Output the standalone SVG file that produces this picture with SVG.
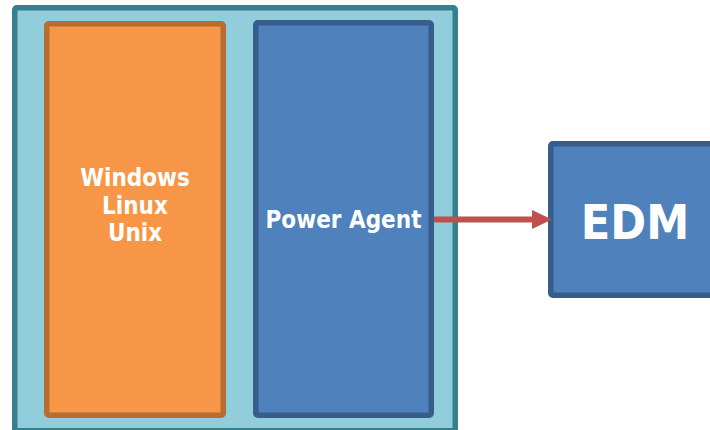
<svg xmlns="http://www.w3.org/2000/svg" width="710" height="430" viewBox="0 0 710 430">
  <defs>
    <style>
      .lbl { font-family: "DejaVu Sans Condensed", "DejaVu Sans", sans-serif; font-stretch: condensed; font-weight: bold; fill: #FFFFFF; text-anchor: middle; }
    </style>
    <marker id="arrowhead" markerUnits="userSpaceOnUse" markerWidth="20" markerHeight="20" refX="1" refY="9.5" orient="auto">
      <path d="M0,0 L20,9.5 L0,19 Z" fill="#C0504D"/>
    </marker>
  </defs>
  <rect width="710" height="430" fill="#FFFFFF"/>
  <g id="host">
    <rect x="14.75" y="7.75" width="440.5" height="423" rx="2" fill="#92CDDC" stroke="#357F8E" stroke-width="5.5"/>
  </g>
  <g id="os">
    <rect x="46.75" y="23.75" width="176.5" height="391.5" rx="2" fill="#F79646" stroke="#B66D31" stroke-width="5.5"/>
    <text class="lbl" x="135" y="186" font-size="24">Windows</text>
    <text class="lbl" x="135" y="214" font-size="24">Linux</text>
    <text class="lbl" x="135" y="241" font-size="24">Unix</text>
  </g>
  <g id="agent">
    <rect x="255.75" y="22.75" width="175.5" height="392.5" rx="2" fill="#4F81BD" stroke="#385D8A" stroke-width="5.5"/>
    <text class="lbl" x="343.5" y="228" font-size="24">Power Agent</text>
  </g>
  <g id="edm">
    <rect x="550.75" y="143.75" width="180" height="151.5" rx="2" fill="#4F81BD" stroke="#385D8A" stroke-width="5.5"/>
    <text class="lbl" x="635" y="239" font-size="48">EDM</text>
  </g>
  <g id="connectors">
    <line x1="434" y1="219.5" x2="533" y2="219.5" stroke="#C0504D" stroke-width="6" marker-end="url(#arrowhead)"/>
  </g>
</svg>
